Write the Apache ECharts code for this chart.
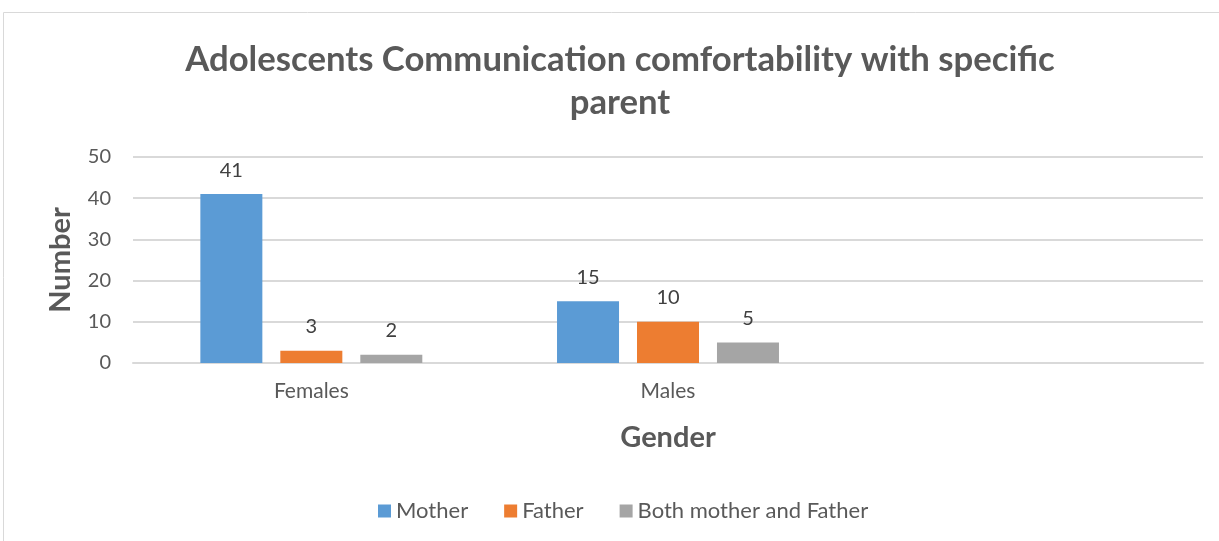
<!DOCTYPE html>
<html><head><meta charset="utf-8">
<script src="https://cdn.jsdelivr.net/npm/echarts@6/dist/echarts.min.js"></script>
<style>html,body{margin:0;padding:0;background:#fff}#c{width:1219px;height:541px}</style>
</head><body><div id="c"></div>
<script>
const categories = ['Females', 'Males', ''];
const seriesNames = ['Mother', 'Father', 'Both mother and Father'];
const mother = [41, 15, null];
const father = [3, 10, null];
const both = [2, 5, null];
const yTicks = [0, 10, 20, 30, 40, 50];
const colors = ['#5b9bd5', '#ed7d31', '#a5a5a5'];
const FONT = 'Lato';
const chart = echarts.init(document.getElementById('c'));
function mk(name, data, i) {
  return {
    name, type: 'bar', data, barWidth: 62, barGap: '29%',
    itemStyle: { color: colors[i] },
    label: { show: true, position: 'top', distance: 14, color: '#404040', fontFamily: FONT, fontSize: 20 }
  };
}
chart.setOption({
  animation: false,
  textStyle: { fontFamily: FONT },
  graphic: [{ type: 'rect', shape: { x: 3.5, y: 12.5, width: 1230, height: 540 }, style: { fill: 'none', stroke: '#d9d9d9', lineWidth: 1 } }],
  title: {
    text: 'Adolescents Communication comfortability with specific\nparent',
    left: 615, textAlign: 'center', top: 33,
    textStyle: { fontFamily: FONT, fontSize: 34.7, fontWeight: 'bold', color: '#595959', lineHeight: 43 }
  },
  legend: {
    bottom: 14, left: 373, itemWidth: 13, itemHeight: 13, itemGap: 36,
    icon: 'rect',
    textStyle: { fontFamily: FONT, fontSize: 22, color: '#595959' },
    data: seriesNames
  },
  grid: { left: 133, right: 16, top: 157, bottom: 178 },
  xAxis: {
    type: 'category', data: categories,
    name: 'Gender', nameLocation: 'middle', nameGap: 60,
    nameTextStyle: { fontFamily: FONT, fontSize: 29, fontWeight: 'bold', color: '#595959' },
    axisLine: { lineStyle: { color: '#d9d9d9', width: 2 } },
    axisTick: { show: false },
    axisLabel: { color: '#595959', fontSize: 21, fontFamily: FONT, margin: 18 }
  },
  yAxis: {
    type: 'value', min: 0, max: 50, interval: 10,
    name: 'Number', nameLocation: 'middle', nameGap: 58, nameRotate: 90,
    nameTextStyle: { fontFamily: FONT, fontSize: 29, fontWeight: 'bold', color: '#595959' },
    axisLine: { show: false }, axisTick: { show: false },
    axisLabel: { color: '#595959', fontSize: 20, fontFamily: FONT, margin: 22, formatter: v => yTicks.includes(v) ? String(v) : '' },
    splitLine: { lineStyle: { color: '#d9d9d9', width: 2 } }
  },
  series: [mk(seriesNames[0], mother, 0), mk(seriesNames[1], father, 1), mk(seriesNames[2], both, 2)]
});
</script></body></html>
